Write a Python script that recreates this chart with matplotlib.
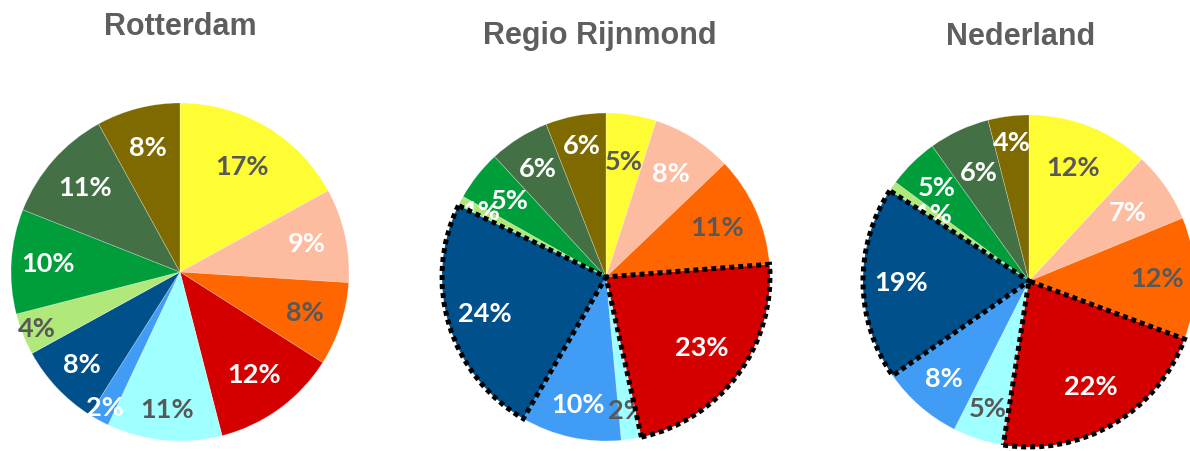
import matplotlib
matplotlib.use("Agg")
import matplotlib.pyplot as plt
import numpy as np

# Share per category (percent), slices run clockwise from 12 o'clock
categories = ["cat1", "cat2", "cat3", "cat4", "cat5", "cat6",
              "cat7", "cat8", "cat9", "cat10", "cat11"]
rotterdam = [17, 9, 8, 12, 11, 2, 8, 4, 10, 11, 8]
rijnmond = [5, 8, 11, 23, 2, 10, 24, 1, 5, 6, 6]
nederland = [12, 7, 12, 22, 5, 8, 19, 1, 5, 6, 4]
titles = ["Rotterdam", "Regio Rijnmond", "Nederland"]

colors = ["#FEFC33", "#FDBBA0", "#FF6600", "#D40000", "#A0FFFF", "#409CF4",
          "#00508C", "#B0E87A", "#009E3A", "#437045", "#7F6A00"]
GREY = "#585858"
label_colors = [GREY, "white", GREY, "white", GREY, "white",
                "white", GREY, "white", "white", "white"]

W, H = 1190, 451
# pie layout in pixel space (y measured from top)
pies = [
    dict(vals=rotterdam, cx=180, cy=272, r=169, hl=[],
         title_x=180.5, title_y=35,
         dist=[0.72, 0.77, 0.78, 0.75, 0.82, 0.92, 0.80, 0.91, 0.78, 0.75, 0.76]),
    dict(vals=rijnmond, cx=606, cy=277, r=164, hl=[3, 6],
         title_x=600, title_y=44,
         dist=[0.71, 0.74, 0.74, 0.73, 0.83, 0.80, 0.77, 0.86, 0.75, 0.78, 0.81]),
    dict(vals=nederland, cx=1029, cy=281, r=166, hl=[3, 6],
         title_x=1021, title_y=45,
         dist=[0.73, 0.72, 0.77, 0.74, 0.81, 0.78, 0.77, 0.70, 0.79, 0.72, 0.84]),
]

fig = plt.figure(figsize=(W / 100, H / 100), dpi=100)
ax = fig.add_axes([0, 0, 1, 1])

for k, p in enumerate(pies):
    cx, cy, r = p["cx"], H - p["cy"], p["r"]
    wedges, _ = ax.pie(p["vals"], colors=colors, startangle=90, counterclock=False,
                       radius=r, center=(cx, cy),
                       wedgeprops=dict(linewidth=0.5, edgecolor=(1, 1, 1, 0.35)))
    for i, (w, v) in enumerate(zip(wedges, p["vals"])):
        hl = i in p["hl"]
        w.set_zorder(3 if hl else 1)
        if hl:
            w.set_edgecolor("black")
            w.set_linewidth(3.6)
            w.set_linestyle((0, (1.0, 0.8)))
        theta = np.deg2rad((w.theta1 + w.theta2) / 2)
        d = p["dist"][i] * r
        col = label_colors[i] if v > 1 else "white"
        ax.text(cx + d * np.cos(theta), cy + d * np.sin(theta), f"{v}%",
                ha="center", va="center", fontsize=19.5, fontweight="bold",
                family=["Lato", "DejaVu Sans"], color=col,
                zorder=4 if hl else 2)
    ax.text(p["title_x"], H - p["title_y"], titles[k],
            ha="center", va="baseline", fontsize=22, fontweight="bold",
            family=["Liberation Sans", "DejaVu Sans"], color="#5e5e5e")

ax.set_xlim(0, W)
ax.set_ylim(0, H)
ax.set_aspect("auto")
ax.axis("off")
fig.savefig("out.png", dpi=100)
